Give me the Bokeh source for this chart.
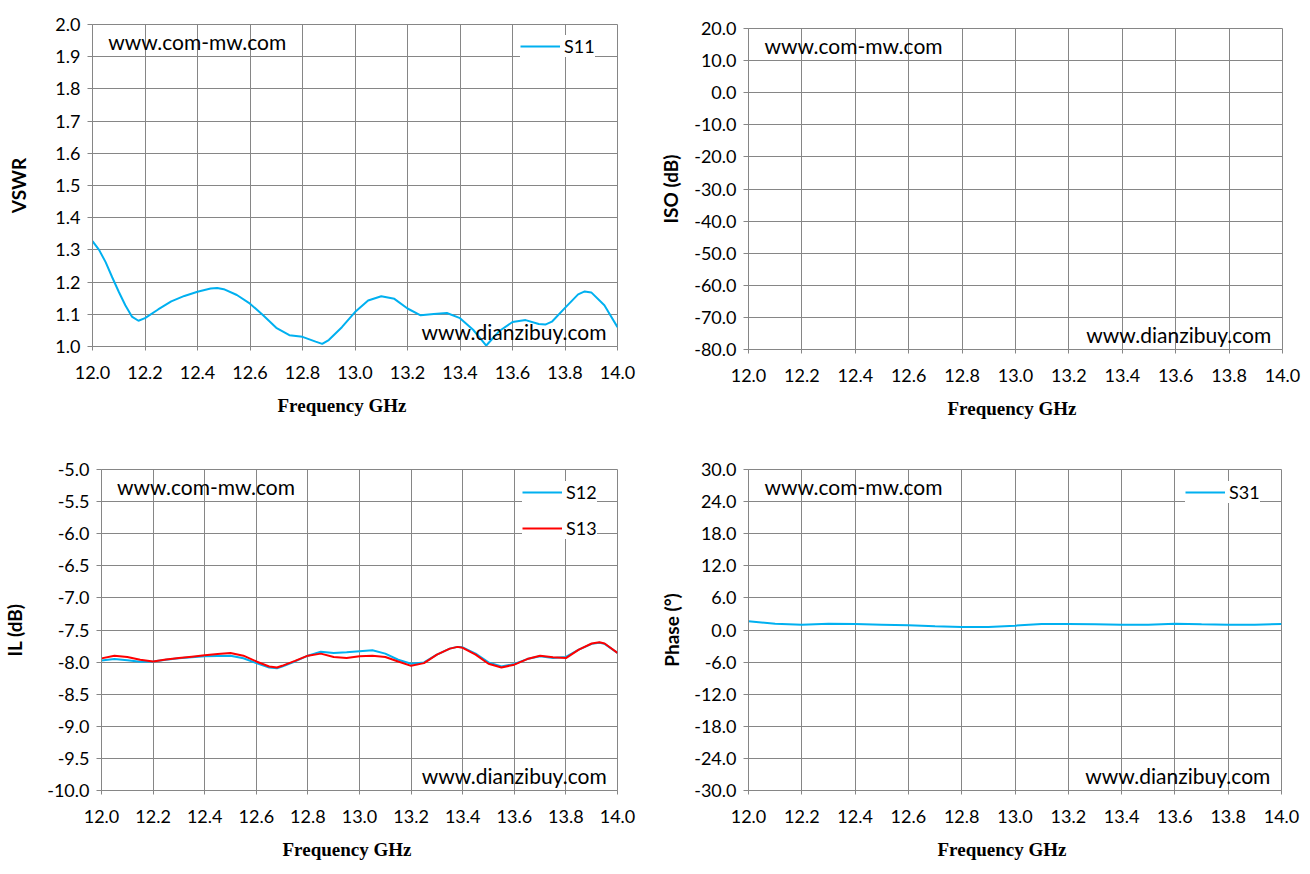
from bokeh.plotting import figure
from bokeh.layouts import column, row
from bokeh.models import (Range1d, FixedTicker, NumeralTickFormatter, Label, Legend, LegendItem,
                          Spacer, Title)
from bokeh.embed import file_html
from bokeh.resources import INLINE

# ---------------- data ----------------
x_ticks = [12.0, 12.2, 12.4, 12.6, 12.8, 13.0, 13.2, 13.4, 13.6, 13.8, 14.0]
vswr_ticks = [1.0, 1.1, 1.2, 1.3, 1.4, 1.5, 1.6, 1.7, 1.8, 1.9, 2.0]
iso_ticks = [-80.0, -70.0, -60.0, -50.0, -40.0, -30.0, -20.0, -10.0, 0.0, 10.0, 20.0]
il_ticks = [-10.0, -9.5, -9.0, -8.5, -8.0, -7.5, -7.0, -6.5, -6.0, -5.5, -5.0]
phase_ticks = [-30.0, -24.0, -18.0, -12.0, -6.0, 0.0, 6.0, 12.0, 18.0, 24.0, 30.0]

s11_freq = [12.00, 12.025, 12.05, 12.075, 12.10, 12.125, 12.15, 12.175, 12.20, 12.25,
            12.30, 12.35, 12.40, 12.45, 12.475, 12.50, 12.55, 12.60, 12.65, 12.70,
            12.75, 12.80, 12.85, 12.875, 12.90, 12.95, 13.00, 13.05, 13.10, 13.15,
            13.20, 13.25, 13.30, 13.35, 13.40, 13.45, 13.50, 13.55, 13.60, 13.65,
            13.70, 13.725, 13.75, 13.80, 13.85, 13.875, 13.90, 13.95, 14.00]
s11_vswr = [1.327, 1.300, 1.262, 1.215, 1.170, 1.128, 1.093, 1.080, 1.088, 1.115,
            1.140, 1.157, 1.170, 1.180, 1.182, 1.178, 1.160, 1.133, 1.097, 1.058,
            1.035, 1.030, 1.015, 1.008, 1.020, 1.060, 1.107, 1.143, 1.156, 1.148,
            1.118, 1.097, 1.101, 1.104, 1.088, 1.052, 1.003, 1.048, 1.076, 1.082,
            1.070, 1.068, 1.077, 1.120, 1.162, 1.171, 1.168, 1.128, 1.060]

il_freq = [12.00, 12.05, 12.10, 12.15, 12.20, 12.25, 12.30, 12.35, 12.40, 12.45,
           12.50, 12.55, 12.60, 12.65, 12.68, 12.70, 12.75, 12.80, 12.85, 12.90,
           12.95, 13.00, 13.05, 13.10, 13.15, 13.20, 13.25, 13.30, 13.35, 13.38,
           13.40, 13.45, 13.50, 13.55, 13.60, 13.65, 13.70, 13.75, 13.80, 13.85,
           13.90, 13.93, 13.95, 14.00]
s12_il = [-7.974, -7.953, -7.970, -7.995, -7.990, -7.965, -7.940, -7.925, -7.910, -7.905,
          -7.900, -7.940, -8.016, -8.084, -8.095, -8.068, -7.990, -7.900, -7.840, -7.858,
          -7.847, -7.830, -7.816, -7.868, -7.963, -8.026, -8.005, -7.884, -7.790, -7.763,
          -7.770, -7.868, -8.005, -8.068, -8.030, -7.953, -7.910, -7.937, -7.920, -7.805,
          -7.716, -7.700, -7.716, -7.858]
s13_il = [-7.942, -7.900, -7.920, -7.963, -7.990, -7.960, -7.937, -7.915, -7.895, -7.875,
          -7.858, -7.900, -7.990, -8.068, -8.084, -8.058, -7.980, -7.900, -7.868, -7.920,
          -7.937, -7.910, -7.900, -7.920, -7.990, -8.058, -8.016, -7.884, -7.790, -7.763,
          -7.778, -7.884, -8.026, -8.084, -8.040, -7.953, -7.900, -7.926, -7.937, -7.805,
          -7.710, -7.690, -7.710, -7.858]

ph_freq = [12.0, 12.1, 12.2, 12.3, 12.4, 12.5, 12.6, 12.7, 12.8, 12.9, 13.0,
           13.1, 13.2, 13.3, 13.4, 13.5, 13.6, 13.7, 13.8, 13.9, 14.0]
s31_phase = [1.62, 1.19, 1.00, 1.19, 1.12, 1.00, 0.87, 0.69, 0.56, 0.56, 0.81,
             1.12, 1.12, 1.06, 1.00, 1.00, 1.19, 1.06, 1.00, 1.00, 1.12]

x_title = "Frequency GHz"

# ---------------- style ----------------
GRID = "#868686"
BLUE = "#00B0F0"
RED = "#FF0000"
TICK_FONT = "Lato"
TICK_SIZE = "18px"


def make_panel(width, height, left, right, top, bottom, yr, yticks, ytitle, ylab_standoff,
               xtitle_left, xtitle_standoff):
    p = figure(width=width, height=height, output_backend="svg", toolbar_location=None,
               x_range=Range1d(12.0, 14.0), y_range=Range1d(yr[0], yr[1]),
               min_border_left=left, min_border_right=right,
               min_border_top=top, min_border_bottom=bottom)
    p.background_fill_color = "white"
    p.border_fill_color = "white"
    p.outline_line_color = GRID
    p.outline_line_width = 1
    p.xaxis.ticker = FixedTicker(ticks=x_ticks)
    p.yaxis.ticker = FixedTicker(ticks=yticks)
    p.xaxis.formatter = NumeralTickFormatter(format="0.0")
    p.yaxis.formatter = NumeralTickFormatter(format="0.0")
    for ax in (p.xaxis, p.yaxis):
        ax.axis_line_color = GRID
        ax.major_tick_line_color = GRID
        ax.minor_tick_line_color = None
        ax.major_tick_in = 0
        ax.major_label_text_font = TICK_FONT
        ax.major_label_text_font_size = TICK_SIZE
        ax.major_label_text_color = "#000000"
    p.xaxis.major_tick_out = 4
    p.yaxis.major_tick_out = 5
    p.xaxis.major_label_standoff = 15
    p.yaxis.major_label_standoff = 7
    p.yaxis.axis_label = ytitle
    p.yaxis.axis_label_text_font = "Lato"
    p.yaxis.axis_label_text_font_style = "bold"
    p.yaxis.axis_label_text_font_size = "19px"
    p.yaxis.axis_label_text_color = "#000000"
    p.yaxis.axis_label_standoff = ylab_standoff
    p.xgrid.grid_line_color = GRID
    p.ygrid.grid_line_color = GRID
    p.xgrid.grid_line_width = 1
    p.ygrid.grid_line_width = 1

    # x-axis title as a below-title so it can be placed horizontally
    p.add_layout(Title(text=x_title, align="left", offset=xtitle_left, standoff=xtitle_standoff,
                       text_font="Liberation Serif", text_font_style="bold",
                       text_font_size="19px", text_color="#000000"), "below")

    # watermarks
    y0, y1 = yr
    p.add_layout(Label(x=12.0 + 0.030 * 2.0, y=y1 - 0.053 * (y1 - y0), text="www.com-mw.com",
                       text_font="Lato", text_font_size="21px", text_color="#000000",
                       text_align="left", text_baseline="middle"))
    p.add_layout(Label(x=12.0 + 0.979 * 2.0, y=y0 + 0.047 * (y1 - y0), text="www.dianzibuy.com",
                       text_font="Lato", text_font_size="21px", text_color="#000000",
                       text_align="right", text_baseline="middle"))
    return p


def style_legend(leg, spacing):
    leg.border_line_color = None
    leg.background_fill_color = "white"
    leg.background_fill_alpha = 1.0
    leg.label_text_font = "Lato"
    leg.label_text_font_size = "18px"
    leg.label_text_color = "#000000"
    leg.glyph_width = 40
    leg.glyph_height = 20
    leg.label_height = 20
    leg.label_standoff = 4
    leg.padding = 8
    leg.spacing = spacing
    leg.margin = 0


# Top-left: VSWR (frame 92..617 x, 24..346 y)
p1 = make_panel(650, 440, 92, 33, 24, 94, (1.0, 2.0), vswr_ticks, "VSWR", 22, 185, 23)
r11 = p1.line(s11_freq, s11_vswr, line_color=BLUE, line_width=2)
leg1 = Legend(items=[LegendItem(label="S11", renderers=[r11])], location=(428, 289))
style_legend(leg1, 15)
p1.add_layout(leg1)

# Top-right: ISO (frame 748..1282 x, 28..349 y)
p2 = make_panel(660, 436, 98, 28, 24, 91, (-80.0, 20.0), iso_ticks, "ISO (dB)", 9, 199, 23)

# Bottom-left: IL (frame 92..617 x, 469..790 y)
p3 = make_panel(650, 434, 92, 33, 29, 84, (-10.0, -5.0), il_ticks, "IL (dB)", 18, 181, 23)
r12 = p3.line(il_freq, s12_il, line_color=BLUE, line_width=2)
r13 = p3.line(il_freq, s13_il, line_color=RED, line_width=2)
leg3 = Legend(items=[LegendItem(label="S12", renderers=[r12]),
                     LegendItem(label="S13", renderers=[r13])], location=(421, 251))
style_legend(leg3, 14)
p3.add_layout(leg3)

# Bottom-right: Phase (frame 748..1281 x, 469..790 y)
p4 = make_panel(660, 434, 98, 29, 29, 84, (-30.0, 30.0), phase_ticks, "Phase (°)", 8, 189, 23)
r31 = p4.line(ph_freq, s31_phase, line_color=BLUE, line_width=2)
leg4 = Legend(items=[LegendItem(label="S31", renderers=[r31])], location=(437, 287))
style_legend(leg4, 15)
p4.add_layout(leg4)

top_row = row(column(p1), column(Spacer(width=660, height=4), p2), spacing=0)
bottom_row = row(p3, p4, spacing=0)
layout = column(top_row, bottom_row, spacing=0)
open("out.html", "w").write(file_html(layout, INLINE))
